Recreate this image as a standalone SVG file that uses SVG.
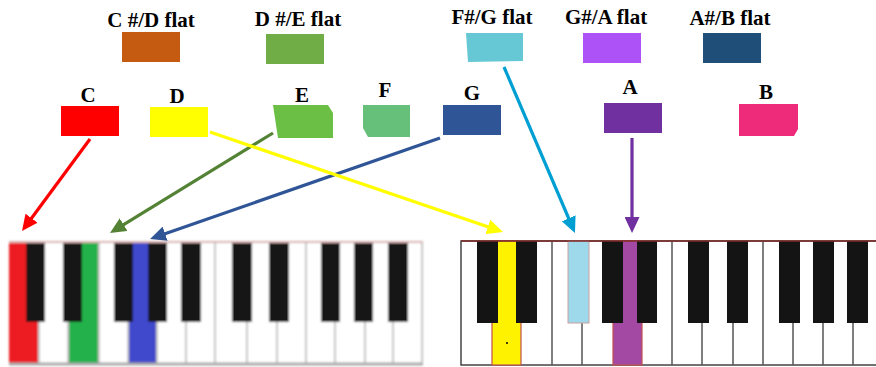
<svg xmlns="http://www.w3.org/2000/svg" width="876" height="367" viewBox="0 0 876 367">
<style>
.lbl{font-family:"Liberation Serif","Times New Roman",serif;font-weight:bold;font-size:21px;fill:#000;text-anchor:middle}
.arr{fill:none;stroke-width:3.2}
.bk{fill:#141414}
.lkw{stroke:#c4c4c4;stroke-width:2}
.rkw{stroke:#555;stroke-width:1.5}
</style>
<defs>
<marker id="mRed" markerUnits="userSpaceOnUse" markerWidth="16" markerHeight="15" refX="10" refY="7.5" orient="auto"><path d="M0,0L16,7.5L0,15z" fill="#FF0000"/></marker>
<marker id="mGreen" markerUnits="userSpaceOnUse" markerWidth="16" markerHeight="15" refX="10" refY="7.5" orient="auto"><path d="M0,0L16,7.5L0,15z" fill="#548235"/></marker>
<marker id="mBlue" markerUnits="userSpaceOnUse" markerWidth="16" markerHeight="15" refX="10" refY="7.5" orient="auto"><path d="M0,0L16,7.5L0,15z" fill="#2F5597"/></marker>
<marker id="mYellow" markerUnits="userSpaceOnUse" markerWidth="16" markerHeight="15" refX="10" refY="7.5" orient="auto"><path d="M0,0L16,7.5L0,15z" fill="#FFFF00"/></marker>
<marker id="mCyan" markerUnits="userSpaceOnUse" markerWidth="16" markerHeight="15" refX="10" refY="7.5" orient="auto"><path d="M0,0L16,7.5L0,15z" fill="#009FD3"/></marker>
<marker id="mPurple" markerUnits="userSpaceOnUse" markerWidth="16" markerHeight="15" refX="10" refY="7.5" orient="auto"><path d="M0,0L16,7.5L0,15z" fill="#7030A0"/></marker>
<filter id="blur" x="-2%" y="-5%" width="104%" height="110%"><feGaussianBlur stdDeviation="1.1"/></filter>
</defs>
<rect width="876" height="367" fill="#fff"/>

<!-- sharps / flats row -->
<g id="n-csharp"><text class="lbl" x="151" y="27">C #/D flat</text><rect x="122" y="32" width="58" height="30" fill="#C55A11"/></g>
<g id="n-dsharp"><text class="lbl" x="298" y="26">D #/E flat</text><rect x="266" y="34" width="58" height="30" fill="#70AD47"/></g>
<g id="n-fsharp"><text class="lbl" x="492" y="24">F#/G flat</text><polygon points="466,33 523,33 523,61 468,62" fill="#66C8D4"/></g>
<g id="n-gsharp"><text class="lbl" x="606" y="24">G#/A flat</text><rect x="583" y="33" width="58" height="30" fill="#AD52F6"/></g>
<g id="n-asharp"><text class="lbl" x="730" y="25">A#/B flat</text><rect x="703" y="33" width="58" height="30" fill="#1F4E79"/></g>

<!-- naturals row -->
<g id="n-c"><text class="lbl" x="88" y="102">C</text><rect x="61" y="106" width="58" height="30" fill="#FF0000"/></g>
<g id="n-d"><text class="lbl" x="177" y="103">D</text><rect x="150" y="107" width="58" height="30" fill="#FFFF00"/></g>
<g id="n-e"><text class="lbl" x="302" y="102">E</text><polygon points="273,105 328,105 333,113 333,138 278,138" fill="#6CBF45"/></g>
<g id="n-f"><text class="lbl" x="385" y="97">F</text><polygon points="363,105 410,105 410,137 368,137 363,128" fill="#66C07A"/></g>
<g id="n-g"><text class="lbl" x="472" y="100">G</text><rect x="443" y="105" width="58" height="30" fill="#2F5597"/></g>
<g id="n-a"><text class="lbl" x="630" y="94">A</text><rect x="604" y="103" width="58" height="30" fill="#7030A0"/></g>
<g id="n-b"><text class="lbl" x="766" y="99">B</text><polygon points="739,104 798,104 798,129 794,136 739,136" fill="#EE2A7B"/></g>

<!-- left keyboard -->
<g id="kb-left">
<g filter="url(#blur)">
<rect x="9" y="241" width="414" height="124" fill="#fff"/>
<rect x="9" y="241" width="29" height="124" fill="#ED1C24"/>
<rect x="69" y="241" width="29" height="124" fill="#22B14C"/>
<rect x="129" y="241" width="28" height="124" fill="#3F48CC"/>
<g class="lkw">
<line x1="39" y1="241" x2="39" y2="365"/><line x1="68" y1="241" x2="68" y2="365"/><line x1="99" y1="241" x2="99" y2="365"/>
<line x1="128" y1="241" x2="128" y2="365"/><line x1="157" y1="241" x2="157" y2="365"/><line x1="186" y1="241" x2="186" y2="365"/>
<line x1="215" y1="241" x2="215" y2="365"/><line x1="247" y1="241" x2="247" y2="365"/><line x1="277" y1="241" x2="277" y2="365"/>
<line x1="306" y1="241" x2="306" y2="365"/><line x1="335" y1="241" x2="335" y2="365"/><line x1="365" y1="241" x2="365" y2="365"/>
<line x1="393" y1="241" x2="393" y2="365"/><line x1="422" y1="241" x2="422" y2="365"/>
</g>
<rect x="26" y="241" width="19" height="81" class="bk"/>
<rect x="63" y="241" width="19" height="81" class="bk"/>
<rect x="114" y="241" width="19" height="81" class="bk"/>
<rect x="148" y="241" width="19" height="81" class="bk"/>
<rect x="181" y="241" width="20" height="81" class="bk"/>
<rect x="232" y="241" width="20" height="81" class="bk"/>
<rect x="269" y="241" width="20" height="81" class="bk"/>
<rect x="321" y="241" width="19" height="81" class="bk"/>
<rect x="354" y="241" width="19" height="81" class="bk"/>
<rect x="388" y="241" width="20" height="81" class="bk"/>
<line x1="9" y1="242" x2="423" y2="242" stroke="#d9b3b3" stroke-width="2"/>
<line x1="9" y1="364" x2="423" y2="364" stroke="#aaa" stroke-width="3"/>
</g>
</g>

<!-- right keyboard -->
<g id="kb-right">
<rect x="461" y="241" width="420" height="124" fill="#fff" stroke="#444" stroke-width="1.5"/>
<rect x="492" y="241" width="29" height="124" fill="#FFF200" stroke="#C0504D" stroke-width="1.2"/>
<rect x="613" y="241" width="29" height="124" fill="#A349A4" stroke="#C0504D" stroke-width="1.2"/>
<g class="rkw">
<line x1="552" y1="241" x2="552" y2="365"/><line x1="582" y1="241" x2="582" y2="365"/>
<line x1="672" y1="241" x2="672" y2="365"/><line x1="702" y1="241" x2="702" y2="365"/><line x1="733" y1="241" x2="733" y2="365"/>
<line x1="763" y1="241" x2="763" y2="365"/><line x1="793" y1="241" x2="793" y2="365"/><line x1="823" y1="241" x2="823" y2="365"/>
<line x1="853" y1="241" x2="853" y2="365"/>
</g>
<rect x="477" y="241" width="21" height="82" class="bk"/>
<rect x="516" y="241" width="21" height="82" class="bk"/>
<rect x="568" y="241" width="21" height="82" fill="#9DD9EA" stroke="#c9a0a0" stroke-width="1"/>
<rect x="602" y="241" width="21" height="82" class="bk"/>
<rect x="637" y="241" width="20" height="82" class="bk"/>
<rect x="688" y="241" width="21" height="82" class="bk"/>
<rect x="727" y="241" width="21" height="82" class="bk"/>
<rect x="779" y="241" width="21" height="82" class="bk"/>
<rect x="813" y="241" width="21" height="82" class="bk"/>
<rect x="847" y="241" width="21" height="82" class="bk"/>
<circle cx="507" cy="343" r="1" fill="#000"/>
<line x1="461" y1="241" x2="876" y2="241" stroke="#7F2A2A" stroke-width="1.5"/>
</g>

<!-- connectors -->
<g id="connectors">
<path class="arr" stroke="#FF0000" d="M90,139L25.6,226.2" marker-end="url(#mRed)"/>
<path class="arr" stroke="#548235" d="M273,133L115.1,229.9" marker-end="url(#mGreen)"/>
<path class="arr" stroke="#2F5597" d="M440,138L155.7,237" marker-end="url(#mBlue)"/>
<path class="arr" stroke="#FFFF00" d="M210,132L497.3,230.1" marker-end="url(#mYellow)"/>
<path class="arr" stroke="#009FD3" d="M504,67L572.6,227.5" marker-end="url(#mCyan)"/>
<path class="arr" stroke="#7030A0" d="M632,138L632,227" marker-end="url(#mPurple)"/>
</g>
</svg>
